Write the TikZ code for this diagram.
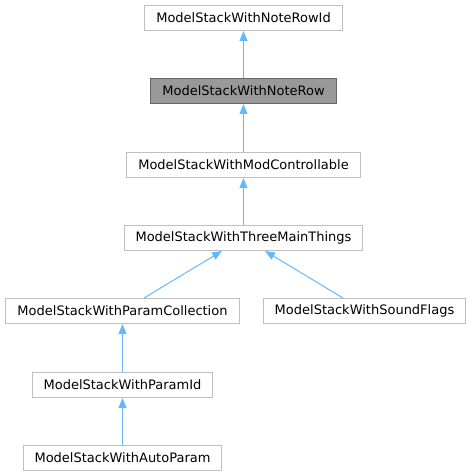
\documentclass[tikz,border=0pt]{standalone}
\usepackage{fontspec}
\setmainfont{DejaVu Sans}
\usetikzlibrary{arrows.meta}
\definecolor{edgeblue}{HTML}{63B8FF}
\definecolor{boxgray}{HTML}{BFBFBF}
\definecolor{curfill}{HTML}{999999}
\definecolor{curdraw}{HTML}{666666}
\begin{document}
\begin{tikzpicture}[x=1pt,y=-1pt,
    cls/.style={draw=boxgray,fill=white,line width=1pt,font=\fontsize{13}{15}\selectfont,
      inner xsep=11.5pt,inner ysep=0pt,minimum height=25pt},
    cur/.style={cls,draw=curdraw,fill=curfill},
    inh/.style={draw=edgeblue,line width=1pt,-{Triangle[length=10pt,width=8pt]}}]
    \useasboundingbox (0,0) rectangle (472,476);
    \node[cls] (rowid) at (243.5,18) {ModelStackWithNoteRowId};
    \node[cur] (row) at (243.5,91) {ModelStackWithNoteRow};
    \node[cls] (modc) at (243.5,165) {ModelStackWithModControllable};
    \node[cls] (three) at (243.5,238) {ModelStackWithThreeMainThings};
    \node[cls] (coll) at (122.5,311) {ModelStackWithParamCollection};
    \node[cls] (snd) at (364.5,311) {ModelStackWithSoundFlags};
    \node[cls] (pid) at (122.5,385) {ModelStackWithParamId};
    \node[cls] (auto) at (122.5,458) {ModelStackWithAutoParam};
    \foreach \a/\b in {row/rowid,modc/row,three/modc,coll/three,snd/three,pid/coll,auto/pid}
    \draw[inh] (\a) -- (\b);
\end{tikzpicture}
\end{document}
